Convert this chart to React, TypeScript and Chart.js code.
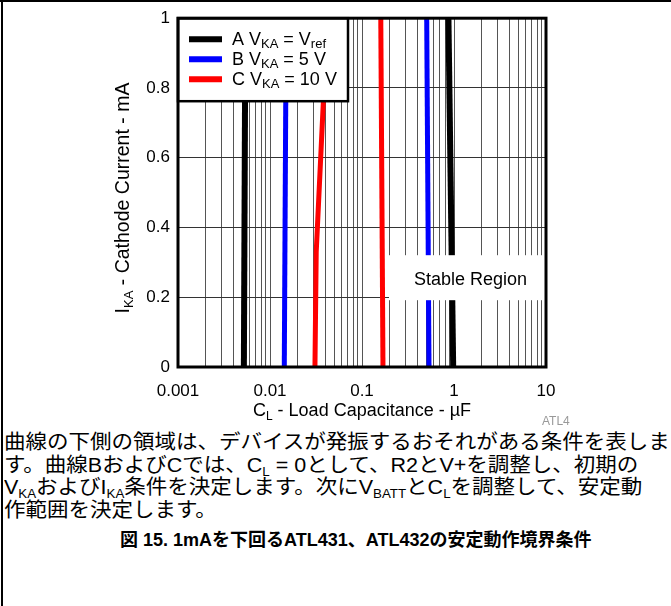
import React, { useEffect, useRef } from 'react';
import { Chart, registerables } from 'chart.js';

Chart.register(...registerables);

// ---- data ----
const xTickLabels = ['0.001', '0.01', '0.1', '1', '10'];
const yTickLabels = ['0', '0.2', '0.4', '0.6', '0.8', '1'];
const minorMultipliers = [1, 2, 3, 4, 5, 6, 7, 8, 9];

// Curve A : V_KA = Vref (black)
const curveALowX = [0.0052, 0.0054];
const curveALowY = [0, 1];
const curveAHighX = [0.98, 0.87];
const curveAHighY = [0, 1];
// Curve B : V_KA = 5 V (blue)
const curveBLowX = [0.0143, 0.015];
const curveBLowY = [0, 1];
const curveBHighX = [0.535, 0.505];
const curveBHighY = [0, 1];
// Curve C : V_KA = 10 V (red)
const curveCLowX = [0.0308, 0.0318, 0.038, 0.041];
const curveCLowY = [0, 0.33, 0.76, 1];
const curveCHighX = [0.169, 0.16];
const curveCHighY = [0, 1];

const legendLetters = ['A', 'B', 'C'];
const legendValues = [['V', 'ref'], ['5 V', ''], ['10 V', '']];
const curveColors = ['#000000', '#0000ff', '#ff0000'];
const curveWidths = [6, 5, 5];

const toPoints = (xs: number[], ys: number[]) => xs.map((x, i) => ({ x, y: ys[i] }));

type Seg = [string, boolean];

function drawRich(
  ctx: CanvasRenderingContext2D,
  segs: Seg[],
  x: number,
  y: number,
  size: number,
  subSize: number,
  subDy: number,
  align: 'left' | 'center'
) {
  const main = `${size}px "Liberation Sans", Arial, sans-serif`;
  const sub = `${subSize}px "Liberation Sans", Arial, sans-serif`;
  let total = 0;
  for (const [t, s] of segs) {
    ctx.font = s ? sub : main;
    total += ctx.measureText(t).width;
  }
  let cx = align === 'center' ? x - total / 2 : x;
  ctx.textAlign = 'left';
  ctx.textBaseline = 'alphabetic';
  for (const [t, s] of segs) {
    ctx.font = s ? sub : main;
    ctx.fillText(t, cx, s ? y + subDy : y);
    cx += ctx.measureText(t).width;
  }
}

const overlayPlugin = {
  id: 'overlay',
  afterDatasetsDraw(chart: any) {
    const ctx: CanvasRenderingContext2D = chart.ctx;
    const a = chart.chartArea;
    ctx.save();
    ctx.fillStyle = '#000';

    // Stable Region label box
    const bx = a.left + 211;
    const by = a.top + 237;
    ctx.fillStyle = '#fff';
    ctx.fillRect(bx, by, a.right - bx, 45);
    ctx.fillStyle = '#000';
    ctx.font = '18px "Liberation Sans", Arial, sans-serif';
    ctx.textAlign = 'center';
    ctx.textBaseline = 'alphabetic';
    ctx.fillText('Stable Region', bx + (a.right - bx) / 2 + 3, by + 30);

    // Legend box
    const lx = a.left;
    const ly = a.top;
    ctx.fillStyle = '#fff';
    ctx.fillRect(lx, ly, 170, 83);
    ctx.strokeStyle = '#000';
    ctx.lineWidth = 2.5;
    ctx.strokeRect(lx, ly, 170, 83);
    legendLetters.forEach((letter, i) => {
      const cy = ly + 21 + i * 20;
      ctx.strokeStyle = curveColors[i];
      ctx.lineWidth = 6;
      ctx.beginPath();
      ctx.moveTo(lx + 11, cy);
      ctx.lineTo(lx + 44, cy);
      ctx.stroke();
      ctx.fillStyle = '#000';
      const [v, vs] = legendValues[i];
      const segs: Seg[] = [[letter + ' V', false], ['KA', true], [' = ' + v, false]];
      if (vs) segs.push([vs, true]);
      drawRich(ctx, segs, lx + 54, cy + 6, 18, 13, 3, 'left');
    });

    // plot frame
    ctx.strokeStyle = '#000';
    ctx.lineWidth = 3;
    ctx.strokeRect(a.left, a.top, a.right - a.left, a.bottom - a.top);
    ctx.restore();
  },
  afterDraw(chart: any) {
    const ctx: CanvasRenderingContext2D = chart.ctx;
    const a = chart.chartArea;
    ctx.save();
    ctx.fillStyle = '#000';
    drawRich(ctx, [['C', false], ['L', true], [' - Load Capacitance - µF', false]], (a.left + a.right) / 2, 416, 18, 12, 4, 'center');
    ctx.translate(129, 198);
    ctx.rotate(-Math.PI / 2);
    drawRich(ctx, [['I', false], ['KA', true], [' - Cathode Current - mA', false]], 0, 0, 19.5, 13, 4, 'center');
    ctx.restore();
  },
};

function ChartCanvas() {
  const ref = useRef<HTMLCanvasElement | null>(null);
  useEffect(() => {
    if (!ref.current) return;
    const majors = xTickLabels.map(Number);
    const gridValues: number[] = [];
    for (let e = 0; e < majors.length - 1; e++) {
      for (const m of minorMultipliers) gridValues.push(m * majors[e]);
    }
    gridValues.push(majors[majors.length - 1]);

    const mk = (xs: number[], ys: number[], i: number) => ({
      data: toPoints(xs, ys),
      borderColor: curveColors[i],
      backgroundColor: curveColors[i],
      borderWidth: curveWidths[i],
      pointRadius: 0,
      showLine: true,
      fill: false,
      tension: 0,
    });

    const chart = new Chart(ref.current, {
      type: 'line',
      data: {
        datasets: [
          mk(curveALowX, curveALowY, 0),
          mk(curveAHighX, curveAHighY, 0),
          mk(curveBLowX, curveBLowY, 1),
          mk(curveBHighX, curveBHighY, 1),
          mk(curveCLowX, curveCLowY, 2),
          mk(curveCHighX, curveCHighY, 2),
        ],
      },
      options: {
        animation: false,
        responsive: false,
        devicePixelRatio: 1,
        parsing: true,
        layout: { padding: { top: 15, right: 125, left: 0, bottom: 0 } },
        plugins: { legend: { display: false }, tooltip: { enabled: false }, title: { display: false } },
        scales: {
          x: {
            type: 'logarithmic',
            min: 0.001,
            max: 10,
            border: { display: false },
            grid: { color: '#555', lineWidth: 1, drawTicks: false },
            afterBuildTicks: (scale: any) => {
              scale.ticks = gridValues.map((v) => ({ value: v }));
            },
            afterFit: (scale: any) => {
              scale.height = 58;
            },
            ticks: {
              autoSkip: false,
              maxRotation: 0,
              padding: 14,
              color: '#000',
              font: { family: '"Liberation Sans", Arial, sans-serif', size: 17 },
              callback: (value: any) => {
                const idx = majors.findIndex((m) => Math.abs(m - Number(value)) / m < 1e-6);
                return idx >= 0 ? xTickLabels[idx] : '';
              },
            },
          },
          y: {
            type: 'linear',
            min: 0,
            max: 1,
            border: { display: false },
            grid: { color: '#333', lineWidth: 1, drawTicks: false },
            afterFit: (scale: any) => {
              scale.width = 178;
            },
            ticks: {
              stepSize: 0.2,
              padding: 8,
              color: '#000',
              font: { family: '"Liberation Sans", Arial, sans-serif', size: 17 },
              callback: (value: any) => {
                const idx = yTickLabels.findIndex((t) => Math.abs(Number(t) - Number(value)) < 1e-6);
                return idx >= 0 ? yTickLabels[idx] : '';
              },
            },
          },
        },
      },
      plugins: [overlayPlugin],
    } as any);
    return () => chart.destroy();
  }, []);
  return <canvas ref={ref} width={671} height={425} style={{ position: 'absolute', left: 0, top: 0 }} />;
}

const subStyle: React.CSSProperties = { fontSize: '0.62em', verticalAlign: '-0.3em', lineHeight: 0 };
const lineStyle: React.CSSProperties = { height: 22.7, whiteSpace: 'nowrap' };

export default function App() {
  return (
    <div
      style={{
        position: 'fixed',
        left: 0,
        top: 0,
        width: 671,
        height: 606,
        background: '#fff',
        overflow: 'hidden',
      }}
    >
      <div style={{ position: 'absolute', left: 0, top: 0, width: 671, height: 2, background: '#000' }} />
      <div style={{ position: 'absolute', left: 1, top: 0, width: 2, height: 606, background: '#000' }} />
      <ChartCanvas />
      <div
        style={{
          position: 'absolute',
          left: 542,
          top: 414,
          fontFamily: '"Liberation Sans", Arial, sans-serif',
          fontSize: 12,
          color: '#999',
          whiteSpace: 'nowrap',
        }}
      >
        ATL4
      </div>
      <div
        lang="ja"
        style={{
          position: 'absolute',
          left: 4,
          top: 431,
          fontFamily: '"Liberation Sans", "Noto Sans CJK JP", sans-serif',
          fontSize: 20,
          lineHeight: '22.7px',
          color: '#000',
          whiteSpace: 'nowrap',
          transform: 'scaleX(1.075)',
          transformOrigin: 'left top',
        }}
      >
        <div style={lineStyle}>曲線の下側の領域は、デバイスが発振するおそれがある条件を表しま</div>
        <div style={lineStyle}>
          す。曲線BおよびCでは、C<span style={subStyle}>L</span> = 0として、R2とV+を調整し、初期の
        </div>
        <div style={lineStyle}>
          V<span style={subStyle}>KA</span>およびI<span style={subStyle}>KA</span>条件を決定します。次にV
          <span style={subStyle}>BATT</span>とC<span style={subStyle}>L</span>を調整して、安定動
        </div>
        <div style={lineStyle}>作範囲を決定します。</div>
      </div>
      <div
        lang="ja"
        style={{
          position: 'absolute',
          left: 120,
          top: 529,
          fontFamily: '"Liberation Sans", "Noto Sans CJK JP", sans-serif',
          fontSize: 18,
          fontWeight: 'bold',
          lineHeight: '22px',
          color: '#000',
          whiteSpace: 'nowrap',
        }}
      >
        図 15. 1mAを下回るATL431、ATL432の安定動作境界条件
      </div>
    </div>
  );
}
